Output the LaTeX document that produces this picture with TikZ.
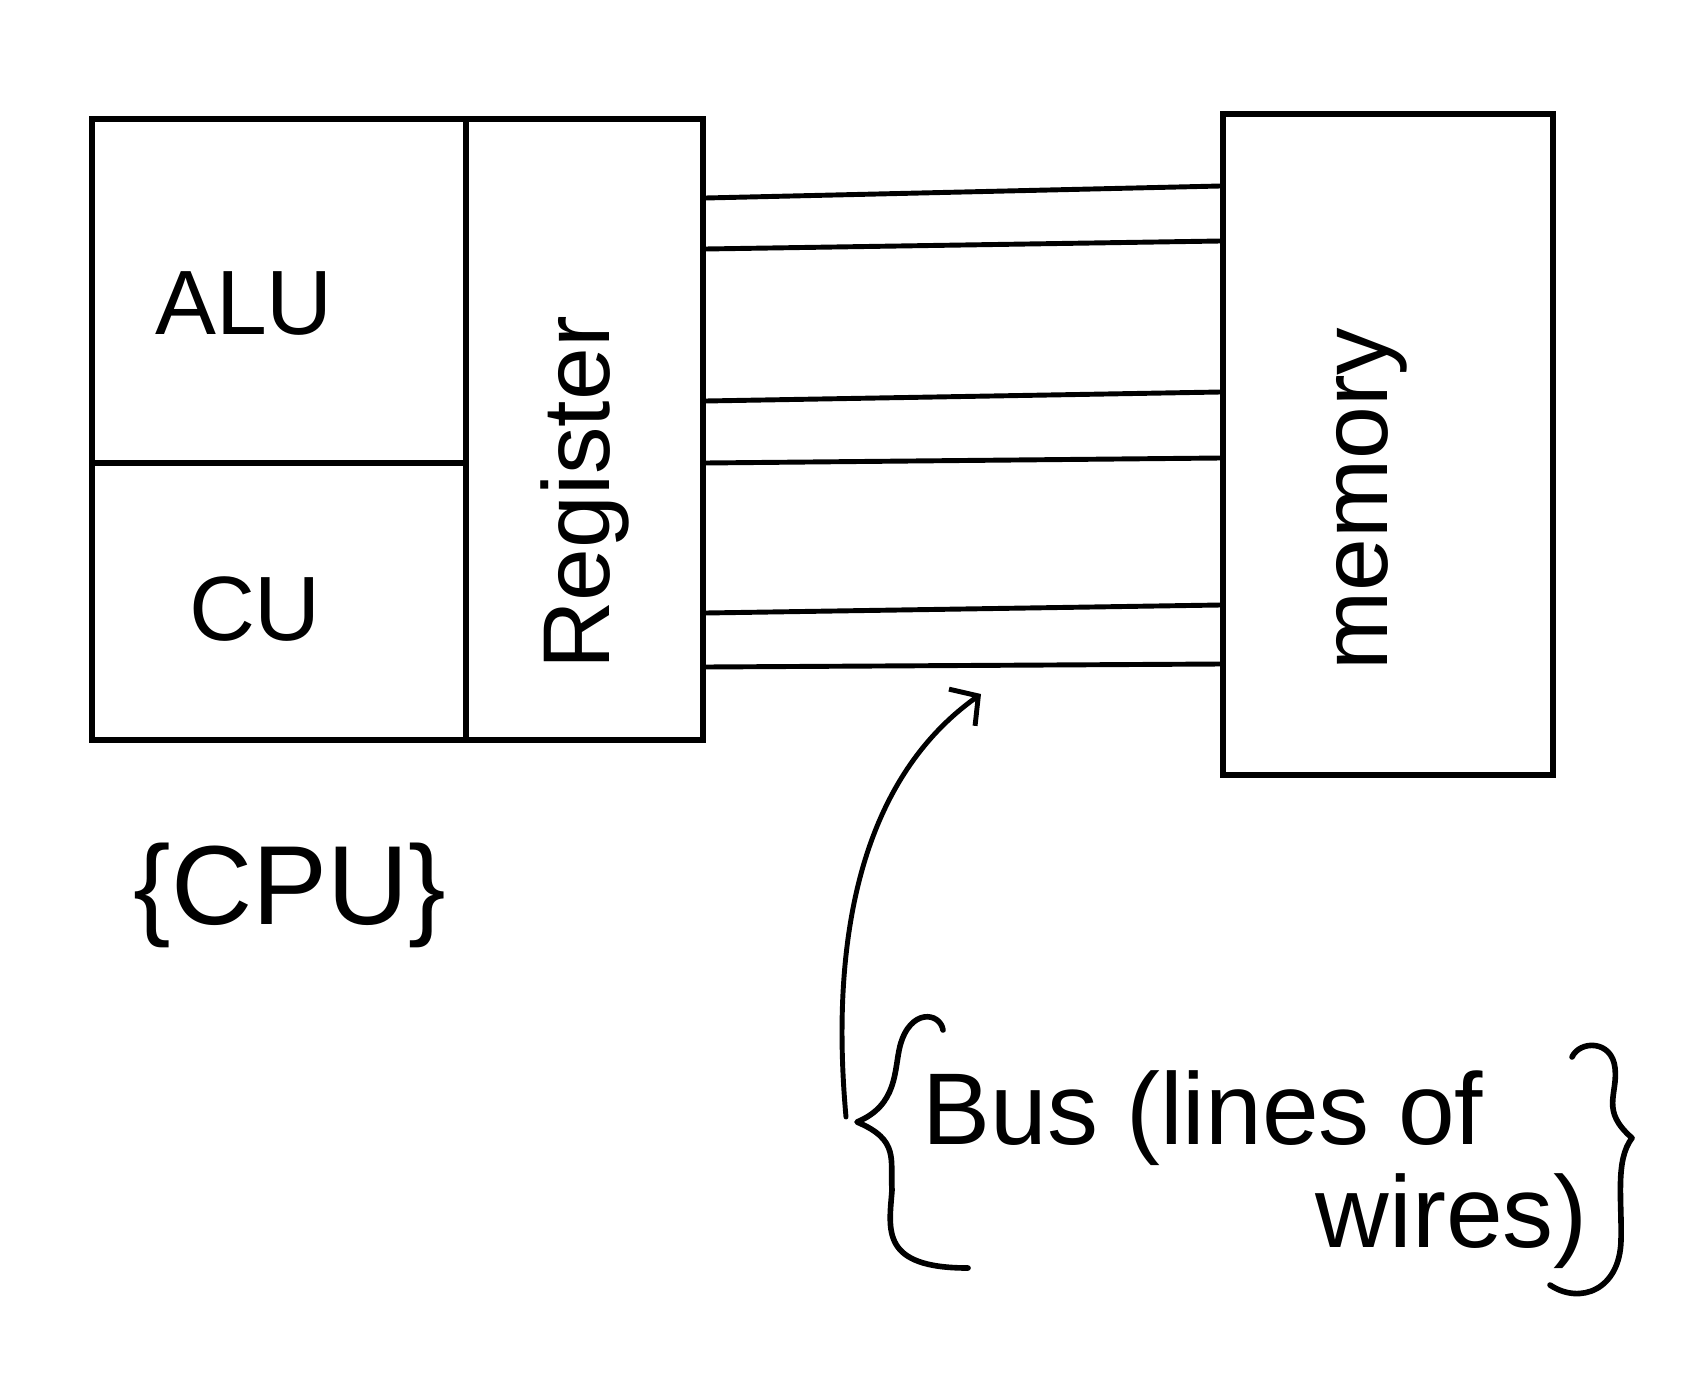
\documentclass[tikz,border=0pt]{standalone}
\usepackage{fontspec}
\setmainfont{Liberation Sans}
\usetikzlibrary{arrows.meta}
\begin{document}
\begin{tikzpicture}[x=0.2mm,y=-0.2mm,
  box/.style={draw, line width=3pt, inner sep=0pt},
  wire/.style={line width=2.8pt},
  lbl/.style={inner sep=0pt, font=\fontsize{52}{60}\selectfont},
  vlbl/.style={inner sep=0pt, rotate=90, font=\fontsize{54}{62}\selectfont},
  brace/.style={line width=3.2pt, line cap=round, line join=round},
  pointer/.style={line width=2.8pt, line cap=round, -{Straight Barb[length=4mm,width=9mm,line width=2.8pt]}}]
\useasboundingbox (0,0) rectangle (1700,1389);
\fill[white] (0,0) rectangle (1700,1389);
% boxes
\node[box, minimum width=74.8mm, minimum height=68.8mm] (alu) at (279,291) {};
\node[box, minimum width=74.8mm, minimum height=55.4mm] (cu) at (279,601.5) {};
\node[box, minimum width=47.4mm, minimum height=124.2mm] (reg) at (584.5,429.5) {};
\node[box, minimum width=66mm, minimum height=132.2mm] (mem) at (1388,444.5) {};
% labels
\node[lbl] (alut) at (244,304) {ALU};
\node[lbl] (cut) at (255,609) {CU};
\node[vlbl] (regt) at (585,493) {Register};
\node[vlbl] (memt) at (1372,499) {memory};
\node[inner sep=0pt, font=\fontsize{64}{72}\selectfont] (cpu) at (290,895) {\{CPU\}};
% bus wires
\draw[wire] (reg.east |- 0,198) -- (mem.west |- 0,186);
\draw[wire] (reg.east |- 0,249) -- (mem.west |- 0,241);
\draw[wire] (reg.east |- 0,401) -- (mem.west |- 0,392);
\draw[wire] (reg.east |- 0,463) -- (mem.west |- 0,458);
\draw[wire] (reg.east |- 0,613) -- (mem.west |- 0,605);
\draw[wire] (reg.east |- 0,667) -- (mem.west |- 0,664);
% bus label
\node[inner sep=0pt, anchor=base west, font=\fontsize{58}{66}\selectfont] (bus1) at (922,1144) {Bus (lines of};
\node[inner sep=0pt, anchor=base east, font=\fontsize{58}{66}\selectfont] (bus2) at (1588,1247) {wires)};
\draw[brace] (943,1030) .. controls (940,1012) and (910,1008) .. (900,1046)
  .. controls (894,1070) and (898,1105) .. (857,1122)
  .. controls (900,1140) and (890,1160) .. (892,1190)
  .. controls (889,1230) and (880,1268) .. (968,1268);
\draw[brace] (1572,1057) .. controls (1580,1040) and (1612,1040) .. (1615,1068)
  .. controls (1618,1095) and (1600,1110) .. (1632,1138)
  .. controls (1615,1160) and (1622,1200) .. (1621,1240)
  .. controls (1620,1290) and (1580,1305) .. (1550,1285);
% pointer
\coordinate (tail) at (846,1117);
\coordinate (tip) at (981,694);
\draw[pointer] (tail) .. controls (830,940) and (860,780) .. (tip);
\end{tikzpicture}
\end{document}
